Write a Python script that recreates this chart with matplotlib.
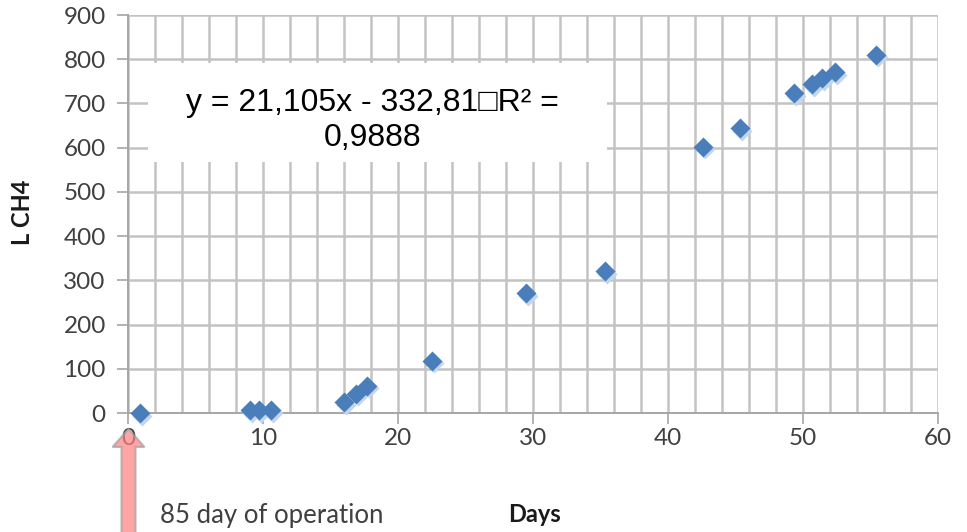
import matplotlib
matplotlib.use("Agg")
import matplotlib.pyplot as plt
import matplotlib.transforms as mtransforms
from matplotlib.patches import Polygon, Rectangle
from matplotlib.ticker import MultipleLocator

# Cumulative methane production over the run
days = [0.9, 9.0, 9.7, 10.6, 16.0, 16.9, 17.7, 22.5, 29.5, 35.3,
        42.6, 45.3, 49.3, 50.7, 51.4, 52.4, 55.4]
methane_l = [0, 6, 6, 6, 24, 44, 62, 118, 271, 320,
             602, 644, 723, 743, 757, 771, 810]

x_ticks = [0, 10, 20, 30, 40, 50, 60]
y_ticks = [0, 100, 200, 300, 400, 500, 600, 700, 800, 900]
fit_label = "y = 21,105x - 332,81\u25a1R\u00b2 =\n0,9888"

W, H = 967, 532
fig = plt.figure(figsize=(W / 100, H / 100), dpi=100)
ax = fig.add_axes([128 / W, 1 - 413 / H, 810 / W, 398 / H])

grid_c = "#c3c3c3"
ax.set_xlim(0, 60)
ax.set_ylim(0, 900)
ax.set_xticks(x_ticks)
ax.set_yticks(y_ticks)
ax.xaxis.set_minor_locator(MultipleLocator(2))
ax.grid(True, which="both", axis="x", color=grid_c, lw=1.8)
ax.grid(True, which="major", axis="y", color=grid_c, lw=1.8)
ax.set_axisbelow(True)
for s in ("top", "right"):
    ax.spines[s].set_visible(False)
for s in ("left", "bottom"):
    ax.spines[s].set_color("#a6a6a6")
    ax.spines[s].set_linewidth(1.4)
ax.tick_params(which="major", direction="out", length=8, width=1.2,
               color="#a6a6a6", labelsize=17.5, labelcolor="#404040")
ax.tick_params(axis="y", pad=8)
ax.tick_params(axis="x", pad=3)
ax.tick_params(which="minor", length=0)
for lab in ax.get_xticklabels() + ax.get_yticklabels():
    lab.set_family("Lato")

# soft shadow beneath the diamonds
shadow = mtransforms.offset_copy(ax.transData, fig=fig, x=2, y=-2.5, units="dots")
ax.plot(days, methane_l, ls="none", marker="D", ms=10.5, color="#c3d5ea",
        mec="none", transform=shadow, zorder=3, clip_on=False)
ax.plot(days, methane_l, ls="none", marker="D", ms=10.5, color="#4a7ebb",
        mec="none", zorder=4, clip_on=False)

# trendline equation label
ax.add_patch(Rectangle((1.5, 568), 34.0, 223, facecolor="white",
                       edgecolor="none", zorder=5))
ax.text(18.1, 662, fit_label, ha="center", va="center", fontsize=23,
        family=["Liberation Sans", "DejaVu Sans"], color="black",
        linespacing=1.2, zorder=6)

ax.set_xlabel("Days", fontsize=17, fontweight="bold", family="Lato",
              color="#1a1a1a", va="center")
ax.xaxis.set_label_coords((534 - 128) / 810, (413 - 515) / 398)
ax.set_ylabel("L CH4", fontsize=17, fontweight="bold", family="Lato",
              color="#1a1a1a", va="center")
ax.yaxis.set_label_coords((23 - 128) / 810, (413 - 212) / 398)

fig.text(160 / W, 1 - 516 / H, "85 day of operation", fontsize=18.5,
         family="Lato", color="#404040", va="center", ha="left")

# upward arrow marking day 0
def fp(x, y):
    return (x / W, 1 - y / H)

arrow_pts = [fp(121.5, 534), fp(121.5, 447), fp(112.5, 447), fp(128.5, 429),
             fp(144.5, 447), fp(135.5, 447), fp(135.5, 534)]
fig.patches.append(Polygon(arrow_pts, closed=True, transform=fig.transFigure,
                           facecolor="#ff7f7f", alpha=0.7,
                           edgecolor="#a0a0a0", lw=1.5, zorder=10))

fig.savefig("out.png", dpi=100)
